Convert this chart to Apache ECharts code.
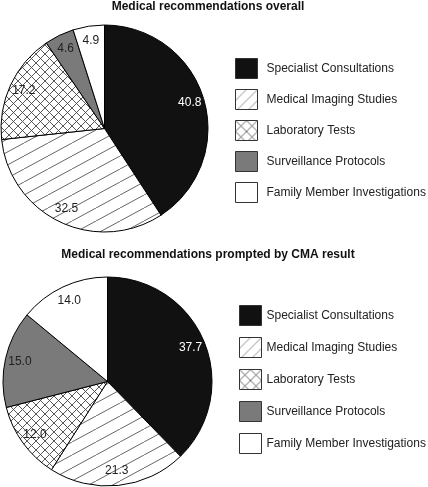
<!DOCTYPE html>
<html>
<head>
<meta charset="utf-8">
<script src="https://cdn.jsdelivr.net/npm/echarts@6/dist/echarts.min.js"></script>
<style>
html,body{margin:0;padding:0;background:#fff;}
#chart{width:428px;height:487px;}
</style>
</head>
<body>
<div id="chart"></div>
<script>
const categories = ['Specialist Consultations','Medical Imaging Studies','Laboratory Tests','Surveillance Protocols','Family Member Investigations'];
const overallValues = [40.8, 32.5, 17.2, 4.6, 4.9];
const cmaValues = [37.7, 21.3, 12.0, 15.0, 14.0];
const titleTop = 'Medical recommendations overall';
const titleBottom = 'Medical recommendations prompted by CMA result';

function makeHatch(w, h, lineColor, lw) {
  const c = document.createElement('canvas');
  c.width = w; c.height = h;
  const g = c.getContext('2d');
  g.fillStyle = '#fff'; g.fillRect(0,0,w,h);
  g.strokeStyle = lineColor; g.lineWidth = lw;
  g.beginPath();
  g.moveTo(0,h); g.lineTo(w,0);
  g.moveTo(-w,h); g.lineTo(0,0);
  g.moveTo(w,h); g.lineTo(2*w,0);
  g.stroke();
  return c;
}
function makeCross(size, lineColor, lw) {
  const c = document.createElement('canvas');
  c.width = size; c.height = size;
  const g = c.getContext('2d');
  g.fillStyle = '#fff'; g.fillRect(0,0,size,size);
  g.strokeStyle = lineColor; g.lineWidth = lw;
  g.beginPath();
  g.moveTo(0,size); g.lineTo(size,0);
  g.moveTo(0,0); g.lineTo(size,size);
  g.stroke();
  return c;
}
const hatch = makeHatch(24, 13, '#555', 0.9);
const cross = makeCross(9, '#444', 0.9);
const hatchLegend = makeHatch(11, 11, '#777', 0.8);
const crossLegend = makeCross(11, '#444', 0.8);

const fills = [
  '#111111',
  {image: hatch, repeat: 'repeat'},
  {image: cross, repeat: 'repeat'},
  '#7a7a7a',
  '#ffffff'
];
const legendFills = [
  '#111111',
  {image: hatchLegend, repeat: 'repeat'},
  {image: crossLegend, repeat: 'repeat'},
  '#7a7a7a',
  '#ffffff'
];
const labelColors = ['#ffffff','#222','#222','#222','#222'];

function pieData(vals) {
  return categories.map((n,i)=>({
    name: n, value: vals[i],
    itemStyle: {color: fills[i]}
  }));
}
function labelData(vals) {
  return categories.map((n,i)=>({
    name: n, value: vals[i],
    label: {color: labelColors[i]}
  }));
}
function pieSeries(vals, center, r) {
  return {
    type: 'pie', center: center, radius: [0, r],
    startAngle: 90, clockwise: true, silent: true,
    label: {show: false}, labelLine: {show: false},
    itemStyle: {borderColor: '#000', borderWidth: 1},
    emphasis: {disabled: true},
    data: pieData(vals)
  };
}
function labelSeries(vals, center, r) {
  return {
    type: 'pie', center: center, radius: [r*0.66, r],
    startAngle: 90, clockwise: true, silent: true,
    legendHoverLink: false,
    itemStyle: {color: 'rgba(0,0,0,0)', borderWidth: 0},
    label: {show: true, position: 'inside', fontSize: 12, fontFamily: 'Liberation Sans, Arial, sans-serif',
      formatter: p => p.value.toFixed(1)},
    labelLine: {show: false},
    emphasis: {disabled: true},
    data: labelData(vals)
  };
}

function legendFor(left, top, gap, textPad) {
  return {
    orient: 'vertical', icon: 'rect', itemWidth: 22, itemHeight: 20,
    selectedMode: false, padding: 0, left: left, top: top, itemGap: gap,
    itemStyle: {borderColor: '#333', borderWidth: 1},
    textStyle: {fontSize: 12, color: '#222', fontFamily: 'Liberation Sans, Arial, sans-serif', padding: [0,0,0,textPad]},
    data: categories.map((n,i)=>({name: n, itemStyle: {color: legendFills[i], borderColor: '#333', borderWidth: 1}}))
  };
}

const chart = echarts.init(document.getElementById('chart'), null, {renderer: 'canvas'});
chart.setOption({
  animation: false,
  backgroundColor: '#fff',
  title: [
    {text: titleTop, left: 208, top: 1, textAlign: 'center', padding: 0,
     textStyle: {fontSize: 12, fontWeight: 'bold', color: '#111', fontFamily: 'Liberation Sans, Arial, sans-serif'}},
    {text: titleBottom, left: 208, top: 249, textAlign: 'center', padding: 0,
     textStyle: {fontSize: 12, fontWeight: 'bold', color: '#111', fontFamily: 'Liberation Sans, Arial, sans-serif'}}
  ],
  legend: [
    legendFor(235, 58, 10, 4),
    legendFor(239, 305, 11, 0)
  ],
  series: [
    pieSeries(overallValues, [104.5, 128.5], 103.5),
    labelSeries(overallValues, [104.5, 128.5], 103.5),
    pieSeries(cmaValues, [107.5, 381.5], 104.5),
    labelSeries(cmaValues, [107.5, 381.5], 104.5)
  ]
});
</script>
</body>
</html>
